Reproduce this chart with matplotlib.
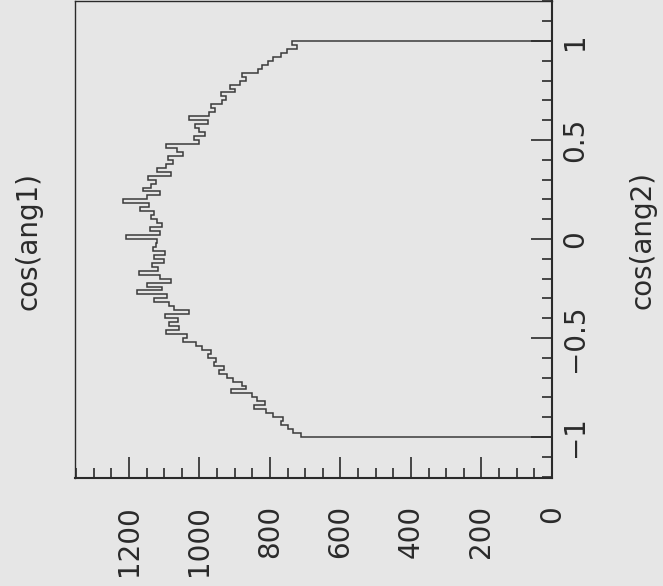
import matplotlib.pyplot as plt
import numpy as np
from matplotlib.ticker import MultipleLocator

# cos(ang2) binning: 100 bins from -1 to 1
bin_edges = np.linspace(-1.0, 1.0, 101)

# entries per bin, from cos(ang2) = -1 upward
counts = [
    712, 735, 748, 770, 762, 790, 812, 846, 815, 836,
    852, 910, 868, 880, 905, 921, 944, 930, 958, 952,
    975, 968, 992, 1010, 1048, 1036, 1094, 1058, 1085, 1062,
    1098, 1030, 1072, 1085, 1128, 1092, 1178, 1105, 1150, 1080,
    1112, 1172, 1118, 1135, 1100, 1128, 1098, 1132, 1122, 1120,
    1208, 1112, 1140, 1105, 1120, 1138, 1128, 1170, 1142, 1218,
    1150, 1112, 1160, 1138, 1122, 1145, 1080, 1120, 1095, 1075,
    1090, 1048, 1065, 1095, 1002, 1015, 985, 1000, 1012, 976,
    1030, 972, 955, 968, 935, 925, 940, 900, 912, 885,
    868, 880, 835, 822, 805, 790, 770, 752, 722, 738,
]

count_ticks = [0, 200, 400, 600, 800, 1000, 1200]
cos_ticks = [-1, -0.5, 0, 0.5, 1]
cos_tick_labels = ['\u22121', '\u22120.5', '0', '0.5', '1']

bg = '#e6e6e6'
ink = '#2a2a2a'

fig = plt.figure(figsize=(6.63, 5.86), dpi=100)
fig.patch.set_facecolor(bg)
ax = fig.add_axes([0.1131, 0.1843, 0.7195, 0.8140])
ax.set_facecolor(bg)

# histogram lies on its side: counts run right-to-left, cos(ang2) bottom-to-top
ax.stairs(counts, bin_edges, orientation='horizontal', baseline=0,
          color='#3a3a3a', linewidth=1.1)

ax.set_xlim(1353, 0)
ax.set_ylim(-1.207, 1.202)

for s in ax.spines.values():
    s.set_color(ink)
    s.set_linewidth(1.0)
ax.spines['bottom'].set_linewidth(1.5)
ax.spines['right'].set_linewidth(1.5)

ax.set_xticks(count_ticks)
ax.set_xticklabels([str(v) for v in count_ticks])
ax.xaxis.set_minor_locator(MultipleLocator(50))
ax.yaxis.tick_right()
ax.set_yticks(cos_ticks)
ax.set_yticklabels(cos_tick_labels)
ax.yaxis.set_minor_locator(MultipleLocator(0.1))

ax.tick_params(axis='both', which='both', direction='in', color=ink,
               width=1.2, labelsize=20, labelcolor=ink)
ax.tick_params(axis='both', which='major', length=15)
ax.tick_params(axis='both', which='minor', length=7.5)
ax.tick_params(axis='x', which='major', pad=19.5, labelrotation=90)
ax.tick_params(axis='y', which='major', pad=6.5, labelrotation=90)
for lab in ax.get_yticklabels():
    lab.set_verticalalignment('center')

fig.text(28 / 663, 1 - 241 / 586, 'cos(ang1)', rotation=90, fontsize=20,
         color=ink, ha='center', va='center')
fig.text(643 / 663, 1 - 240 / 586, 'cos(ang2)', rotation=90, fontsize=20,
         color=ink, ha='center', va='center')

fig.savefig('out.png', dpi=100, facecolor=bg)
